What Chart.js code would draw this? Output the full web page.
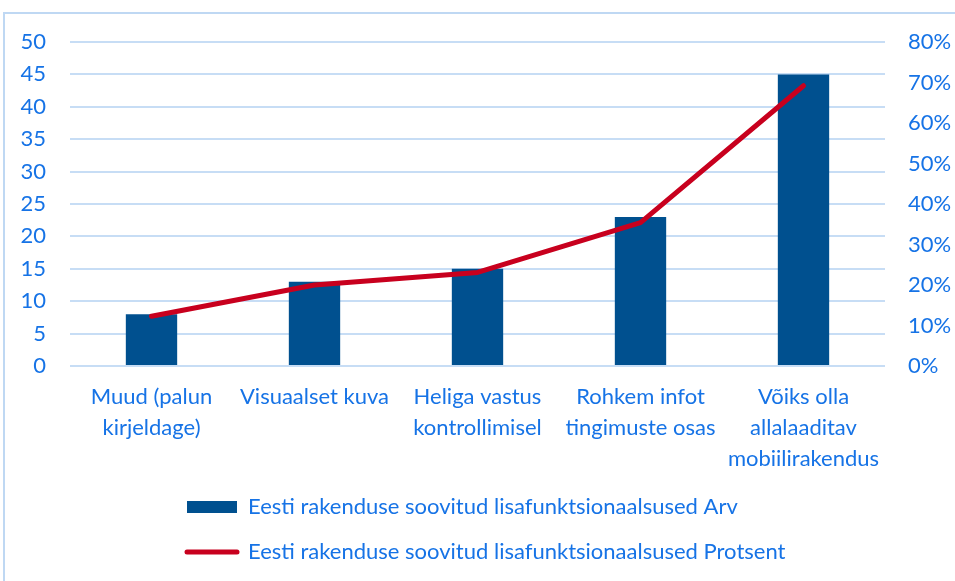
<!DOCTYPE html>
<html>
<head>
<meta charset="utf-8">
<script src="https://cdn.jsdelivr.net/npm/chart.js@4"></script>
<style>
html,body{margin:0;padding:0;background:#fff;}
#wrap{position:relative;width:955px;height:581px;}
</style>
</head>
<body>
<div id="wrap"><canvas id="c" width="955" height="581"></canvas></div>
<script>
const categories = [
  ["Muud (palun", "kirjeldage)"],
  ["Visuaalset kuva"],
  ["Heliga vastus", "kontrollimisel"],
  ["Rohkem infot", "tingimuste osas"],
  ["Võiks olla", "allalaaditav", "mobiilirakendus"]
];
const countValues = [8, 13, 15, 23, 45];
const percentValues = [12.3, 20.0, 23.1, 35.4, 69.2];
const seriesNames = [
  "Eesti rakenduse soovitud lisafunktsionaalsused Arv",
  "Eesti rakenduse soovitud lisafunktsionaalsused Protsent"
];

const TEXT = '#1673e6';
const GRID = '#c7ddf5';
const BAR = '#00508f';
const RED = '#c8001e';
const FONT = 'Lato';
const FS = 22;

const frame = {
  id: 'frame',
  beforeDraw(chart) {
    const ctx = chart.ctx;
    ctx.save();
    ctx.strokeStyle = '#bfd8f3';
    ctx.lineWidth = 2;
    ctx.strokeRect(4, 13, 1000, 700);
    ctx.restore();
  },
  afterLayout(chart) {
    if (chart.legend) chart.legend.left += 164;
  }
};

new Chart(document.getElementById('c'), {
  data: {
    labels: categories,
    datasets: [
      {
        type: 'bar',
        label: seriesNames[0],
        data: countValues,
        backgroundColor: BAR,
        yAxisID: 'y',
        order: 1,
        barPercentage: 0.315,
        categoryPercentage: 1
      },
      {
        type: 'line',
        label: seriesNames[1],
        data: percentValues,
        borderColor: RED,
        backgroundColor: RED,
        borderWidth: 5,
        borderCapStyle: 'round',
        borderJoinStyle: 'round',
        pointRadius: 0,
        tension: 0,
        yAxisID: 'y1',
        order: 0
      }
    ]
  },
  options: {
    responsive: false,
    animation: false,
    layout: { padding: { top: 42, bottom: 8, left: 0, right: 0 } },
    scales: {
      x: {
        grid: { display: false, drawTicks: false },
        border: { display: false },
        ticks: {
          color: TEXT, font: { family: FONT, size: FS, lineHeight: 1.4 },
          padding: 16, maxRotation: 0, autoSkip: false
        },
        afterFit(s) { s.height = 107; }
      },
      y: {
        position: 'left',
        min: 0, max: 50,
        ticks: { stepSize: 5, color: TEXT, font: { family: FONT, size: FS }, padding: 24 },
        grid: { color: GRID, lineWidth: 2, drawTicks: false },
        border: { display: false },
        afterFit(s) { s.width = 70; }
      },
      y1: {
        position: 'right',
        min: 0, max: 80,
        ticks: { stepSize: 10, color: TEXT, font: { family: FONT, size: FS }, padding: 23,
                 callback: v => v + '%' },
        grid: { drawOnChartArea: false, drawTicks: false },
        border: { display: false },
        afterFit(s) { s.width = 70; }
      }
    },
    plugins: {
      tooltip: { enabled: false },
      legend: {
        position: 'bottom',
        align: 'start',
        labels: {
          color: TEXT,
          font: { family: FONT, size: FS },
          usePointStyle: true,
          pointStyleWidth: 50,
          boxHeight: 12,
          padding: 23,
          generateLabels(chart) {
            const items = Chart.defaults.plugins.legend.labels.generateLabels(chart);
            items.forEach(it => {
              if (it.datasetIndex === 1) {
                it.pointStyle = 'line'; it.lineWidth = 5; it.strokeStyle = RED; it.lineCap = 'round';
              } else {
                it.pointStyle = 'rect'; it.lineWidth = 0; it.fillStyle = BAR;
              }
            });
            return items.sort((a, b) => a.datasetIndex - b.datasetIndex);
          }
        }
      }
    }
  },
  plugins: [frame]
});
</script>
</body>
</html>
